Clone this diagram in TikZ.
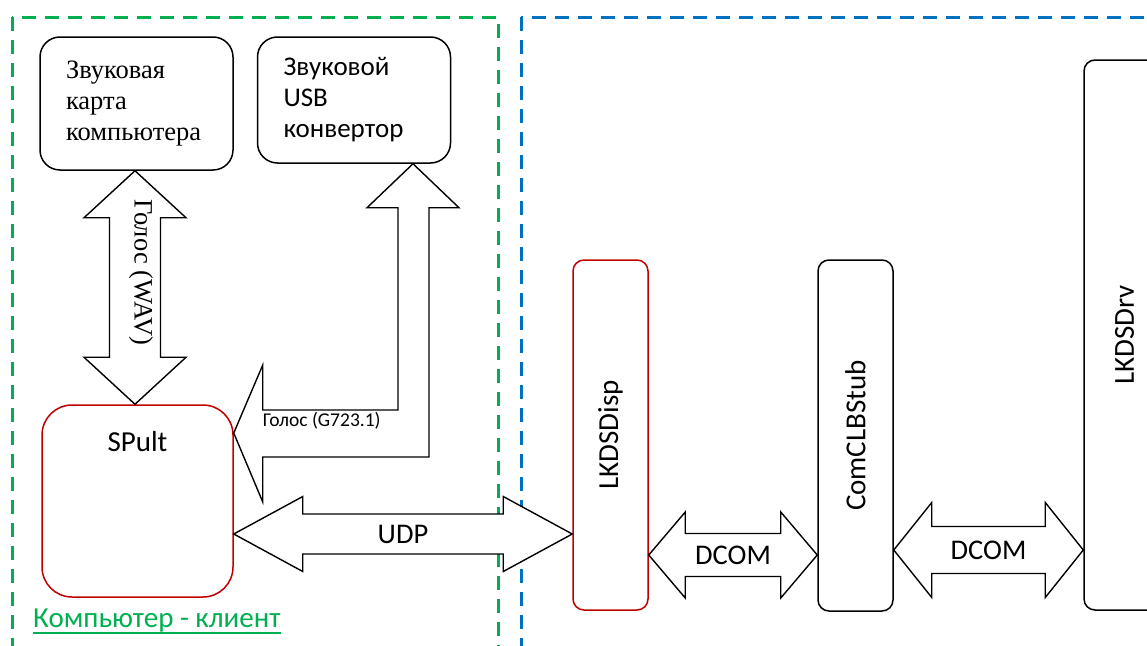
\documentclass[tikz,border=0pt]{standalone}
\usepackage{fontspec}
\setmainfont{Liberation Serif}
\setsansfont{Carlito}
\usepackage{graphicx}
\usetikzlibrary{calc,positioning}
\definecolor{msgreen}{HTML}{00B050}
\definecolor{msblue}{HTML}{0070C0}
\definecolor{msred}{HTML}{C00000}
\tikzstyle{zone}     =[line width=3pt,dash pattern=on 14pt off 9pt]
\tikzstyle{box}      =[draw,line width=1.5pt,rounded corners=20pt,inner sep=0pt]
\tikzstyle{cardbox}  =[box,text width=141pt,inner xsep=26pt,align=left,
                       font=\fontsize{26.5}{31}\selectfont]
\tikzstyle{tallbox}  =[box,rounded corners=11pt,minimum width=75pt,
                       font=\sffamily\fontsize{29}{31}\selectfont]
\tikzstyle{blockarrow}=[draw,line width=1.4pt,fill=white,line join=miter]
\tikzstyle{lbl}      =[inner sep=0pt,font=\sffamily\fontsize{28.5}{31}\selectfont]
% double block arrow between two tips
\newcommand\dblarrow[5]{{
  % #3 head length, #4 half head width, #5 half shaft width
  \draw[blockarrow]
    (#1) -- ($(#1)!#3!(#2)!#4!90:(#2)$) -- ($(#1)!#3!(#2)!#5!90:(#2)$)
    -- ($(#2)!#3!(#1)!#5!-90:(#1)$) -- ($(#2)!#3!(#1)!#4!-90:(#1)$)
    -- (#2)
    -- ($(#2)!#3!(#1)!#4!90:(#1)$) -- ($(#2)!#3!(#1)!#5!90:(#1)$)
    -- ($(#1)!#3!(#2)!#5!-90:(#2)$) -- ($(#1)!#3!(#2)!#4!-90:(#2)$)
    -- cycle;
}}

\begin{document}
\begin{tikzpicture}[x=1pt,y=-1pt]
  \useasboundingbox (0,0) rectangle (1147,645);
  \clip (0,0) rectangle (1147,645);

  % Zones
  \draw[zone,msgreen] (12,17) rectangle (498,670);
  \draw[zone,msblue]  (521,17) rectangle (1180,670);

  % Client side
  \node[cardbox,minimum height=133pt] (card) at (136.5,103.5)
    {Звуковая\\карта\\компьютера};
  \node[cardbox,minimum height=126pt,font=\sffamily\fontsize{27}{31}\selectfont]
    (usb) at (354,100) {Звуковой\\USB\\конвертор};
  \node[box,msred,rounded corners=30pt,minimum width=191pt,minimum height=192pt,
        label={[anchor=north,yshift=-24pt,text=black,
                font=\sffamily\fontsize{29}{31}\selectfont]north:SPult}]
    (spult) at (137.5,501) {};
  \node[inner sep=0pt,anchor=base west,text=msgreen,
        font=\sffamily\fontsize{29}{31}\selectfont]
    (client) at (33,627) {Компьютер - клиент};
  \draw[msgreen,line width=1.3pt]
    ($(client.base west)+(0,6)$) -- ($(client.base east)+(0,6)$);

  % Server side
  \node[tallbox,msred,minimum height=350pt] (lkdsdisp) at (610.5,435)
    {\textcolor{black}{\rotatebox{90}{LKDSDisp}}};
  \node[tallbox,minimum height=351pt] (comstub) at (855.5,435.5)
    {\rotatebox{90}{ComCLBStub}};
  \node[tallbox,minimum width=81pt,minimum height=550pt] (lkdsdrv) at (1124.5,335)
    {\rotatebox{90}{LKDSDrv}};

  % Voice (WAV)
  \coordinate (wavT) at (135,0 |- card.south);
  \coordinate (wavB) at (135,0 |- spult.north);
  \dblarrow{wavT}{wavB}{47pt}{51pt}{25.5pt}
  \node[inner sep=0pt,rotate=-90,font=\fontsize{26.5}{31}\selectfont]
    (wavlbl) at (141,272) {Голос (WAV)};

  % Voice (G723.1)
  \coordinate (gT) at (413,0 |- usb.south);
  \coordinate (gL) at (spult.east |- 0,433);
  \draw[blockarrow]
    (gT) -- ++(46,44) -- ++(-30,0) |- ($(gL)+(29,24)$) -- ++(0,45)
    -- (gL) -- ($(gL)+(29,-68)$) -- ++(0,45) -| ($(gT)+(-15,44)$)
    -- ++(-31,0) -- cycle;
  \node[inner sep=0pt,anchor=west,font=\sffamily\fontsize{19.5}{22}\selectfont]
    (g723lbl) at ($(gL)+(29,-12)$) {Голос (G723.1)};

  % UDP
  \coordinate (udpL) at (spult.east |- 0,534);
  \coordinate (udpR) at (lkdsdisp.west |- 0,534);
  \dblarrow{udpL}{udpR}{69pt}{37.5pt}{20pt}
  \node[lbl] (udplbl) at ($(udpL)!0.5!(udpR)$) {UDP};

  % DCOM
  \coordinate (d1L) at (lkdsdisp.east |- 0,555);
  \coordinate (d1R) at (comstub.west |- 0,555);
  \dblarrow{d1L}{d1R}{36.5pt}{43pt}{21.5pt}
  \node[lbl] (dcom1lbl) at ($(d1L)!0.5!(d1R)$) {DCOM};
  \coordinate (d2L) at (comstub.east |- 0,550);
  \coordinate (d2R) at (lkdsdrv.west |- 0,550);
  \dblarrow{d2L}{d2R}{38pt}{47.5pt}{23.5pt}
  \node[lbl] (dcom2lbl) at ($(d2L)!0.5!(d2R)$) {DCOM};
\end{tikzpicture}
\end{document}
